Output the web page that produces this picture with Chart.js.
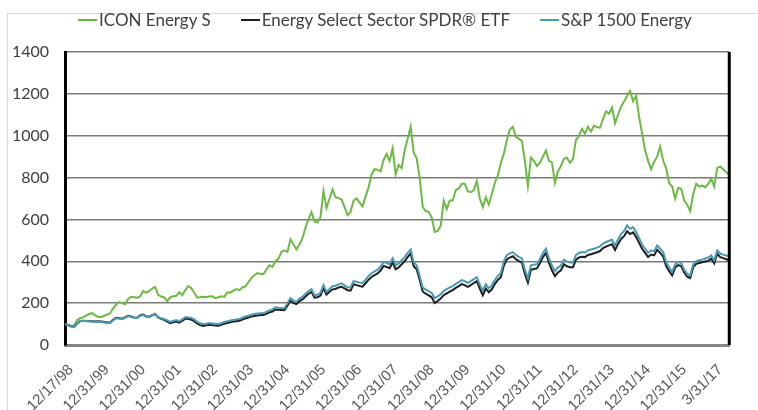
<!DOCTYPE html>
<html>
<head>
<meta charset="utf-8">
<script src="https://cdn.jsdelivr.net/npm/chart.js@4/dist/chart.umd.min.js"></script>
<style>
  html, body { margin: 0; padding: 0; background: #fff; }
  #wrap { position: relative; width: 758px; height: 410px; }
  #leyenda { position: absolute; left: 78px; top: 9px; display: flex; align-items: center;
             font-family: Lato, sans-serif; font-size: 17px; color: #404040; white-space: nowrap; }
  #leyenda .item { display: flex; align-items: center; margin-right: 30px; }
  #leyenda .linea { width: 19px; height: 2px; margin-right: 2px; }
</style>
</head>
<body>
<div id="wrap">
  <canvas id="grafico" width="758" height="410"></canvas>
  <div id="leyenda"></div>
</div>
<script>
// etiquetas del eje X (una cada 12 puntos mensuales)
const tickLabels = ['12/17/98', '12/31/99', '12/31/00', '12/31/01', '12/31/02', '12/31/03',
    '12/31/04', '12/31/05', '12/31/06', '12/31/07', '12/31/08', '12/31/09', '12/31/10',
    '12/31/11', '12/31/12', '12/31/13', '12/31/14', '12/31/15', '3/31/17'];

const yTicks = [0, 200, 400, 600, 800, 1000, 1200, 1400];

const seriesNames = ['ICON Energy S', 'Energy Select Sector SPDR® ETF', 'S&P 1500 Energy'];

const iconEnergy = [
    100, 95, 88, 92, 118, 128, 132, 140, 148, 152, 142, 135,
    133, 140, 145, 152, 175, 192, 205, 200, 195, 220, 230, 228,
    226, 232, 258, 250, 257, 270, 278, 240, 232, 228, 210, 228,
    233, 235, 252, 238, 262, 281, 272, 250, 226, 228, 230, 229,
    232, 233, 224, 228, 233, 230, 252, 250, 260, 267, 262, 275,
    280, 300, 320, 333, 344, 340, 338, 360, 381, 373, 400, 412,
    445, 452, 445, 505, 480, 457, 480, 510, 560, 600, 635, 590,
    585, 612, 735, 655, 700, 743, 706, 702, 695, 660, 620, 635,
    690, 700, 680, 662, 710, 754, 815, 840, 838, 830, 885, 912,
    880, 940, 815, 860, 845, 930, 985, 1043, 920, 892, 800, 660,
    640, 635, 610, 540, 545, 570, 690, 650, 690, 690, 740, 748,
    770, 770, 735, 730, 740, 783, 700, 659, 705, 671, 720, 775,
    810, 870, 914, 980, 1030, 1043, 995, 985, 976, 880, 760, 895,
    880, 855, 870, 900, 929, 880, 873, 775, 830, 855, 890, 895,
    870, 890, 980, 1000, 1033, 1009, 1043, 1020, 1048, 1040, 1038, 1080,
    1116, 1105, 1135, 1060, 1100, 1140, 1163, 1190, 1214, 1165, 1190, 1090,
    1010, 930, 880, 840, 875, 900, 948, 880, 845, 773, 757, 700,
    751, 746, 690, 670, 640, 720, 770, 757, 762, 754, 770, 794,
    757, 846, 852, 840, 825, 813
];

const energySpdr = [
    100, 96, 90, 86, 102, 114, 116, 115, 114, 113, 112, 113,
    112, 110, 108, 107, 120, 130, 128, 126, 132, 140, 136, 132,
    130, 142, 145, 137, 134, 143, 148, 132, 125, 120, 112, 104,
    108, 112, 107, 115, 126, 125, 121, 114, 102, 95, 91, 94,
    97, 95, 93, 92, 96, 102, 105, 109, 112, 114, 116, 121,
    127, 131, 136, 139, 141, 143, 143, 149, 156, 160, 170, 168,
    167, 166, 188, 212, 200, 195, 210, 218, 232, 245, 254, 226,
    228, 236, 272, 241, 254, 266, 268, 275, 278, 270, 262, 260,
    290, 286, 282, 279, 295, 312, 325, 334, 342, 356, 378, 373,
    367, 395, 362, 371, 386, 400, 420, 438, 376, 362, 312, 256,
    245, 237, 228, 200, 210, 222, 238, 247, 255, 262, 273, 281,
    291, 286, 278, 286, 296, 305, 270, 238, 270, 252, 266, 291,
    311, 324, 380, 409, 418, 424, 410, 401, 394, 340, 298, 360,
    363, 366, 390, 420, 440, 393, 357, 329, 347, 357, 386, 376,
    372, 372, 408, 418, 422, 420, 430, 434, 438, 443, 449, 463,
    470, 476, 481, 454, 483, 507, 520, 544, 530, 538, 516, 488,
    460, 440, 420, 432, 428, 455, 440, 424, 377, 353, 333, 370,
    382, 377, 346, 326, 320, 372, 388, 392, 395, 399, 402, 412,
    390, 436, 420, 415, 410, 405
];

const sp1500Energy = [
    100, 96, 90, 86, 102, 114, 116, 115, 113, 112, 110, 112,
    110, 108, 106, 105, 118, 128, 126, 124, 130, 138, 134, 130,
    128, 140, 143, 136, 133, 142, 148, 133, 128, 124, 118, 110,
    115, 119, 114, 122, 133, 132, 129, 122, 110, 104, 100, 102,
    105, 103, 101, 100, 104, 110, 113, 117, 120, 122, 124, 130,
    136, 140, 145, 148, 150, 152, 152, 158, 165, 170, 180, 178,
    177, 176, 200, 224, 212, 206, 222, 230, 245, 258, 267, 238,
    240, 249, 286, 254, 268, 281, 283, 290, 295, 285, 276, 275,
    305, 302, 298, 295, 312, 330, 343, 352, 360, 375, 397, 392,
    386, 414, 381, 390, 405, 420, 440, 457, 395, 381, 330, 275,
    265, 258, 249, 224, 232, 243, 258, 267, 275, 281, 292, 300,
    310, 305, 297, 305, 315, 324, 290, 259, 290, 271, 285, 310,
    330, 343, 400, 429, 438, 444, 430, 421, 414, 360, 319, 381,
    384, 386, 410, 440, 460, 414, 380, 354, 370, 380, 408, 398,
    394, 394, 430, 440, 444, 442, 452, 456, 460, 465, 471, 485,
    492, 498, 503, 476, 505, 530, 545, 571, 555, 563, 540, 510,
    480, 460, 440, 452, 448, 476, 460, 444, 395, 370, 349, 385,
    397, 392, 360, 340, 333, 385, 401, 405, 408, 413, 418, 428,
    405, 452, 437, 432, 428, 424
];

// categorías: etiqueta visible cada 12 meses, vacío en el resto
const labels = iconEnergy.map((v, i) => (i % 12 === 0 ? tickLabels[i / 12] : ''));

const colores = ['#6cb944', '#1f1f1f', '#4b9ab4'];

// leyenda en HTML (línea corta pegada al texto)
const leyenda = document.getElementById('leyenda');
seriesNames.forEach((nombre, i) => {
    const item = document.createElement('div');
    item.className = 'item';
    item.innerHTML = `<span class="linea" style="background:${colores[i]}"></span><span>${nombre}</span>`;
    leyenda.appendChild(item);
});

// marco gris exterior + borde derecho del área de trazado
const marcoPlugin = {
    id: 'marco',
    beforeDraw(chart) {
        const ctx = chart.ctx;
        ctx.save();
        ctx.fillStyle = '#fff';
        ctx.fillRect(0, 0, chart.width, chart.height);
        ctx.strokeStyle = '#d9d9d9';
        ctx.lineWidth = 1;
        ctx.strokeRect(7.5, 13.5, 800, 500);
        ctx.restore();
    },
    afterDraw(chart) {
        const a = chart.chartArea;
        const ctx = chart.ctx;
        ctx.save();
        ctx.strokeStyle = '#000';
        ctx.lineWidth = 3;
        ctx.beginPath();
        ctx.moveTo(a.right, a.top);
        ctx.lineTo(a.right, a.bottom);
        ctx.stroke();
        ctx.restore();
    }
};

new Chart(document.getElementById('grafico').getContext('2d'), {
    type: 'line',
    data: {
        labels: labels,
        datasets: [
            { label: seriesNames[0], data: iconEnergy, borderColor: colores[0], order: 2 },
            { label: seriesNames[1], data: energySpdr, borderColor: colores[1], order: 1 },
            { label: seriesNames[2], data: sp1500Energy, borderColor: colores[2], order: 0 }
        ]
    },
    options: {
        responsive: false,
        animation: false,
        devicePixelRatio: 1,
        elements: {
            point: { radius: 0 },
            line: { borderWidth: 2, tension: 0 }
        },
        layout: { padding: { left: 0, right: 21, top: 52, bottom: 0 } },
        plugins: {
            tooltip: { enabled: false },
            legend: { display: false }
        },
        scales: {
            x: {
                grid: { display: false, drawTicks: false },
                border: { color: '#858585', width: 3 },
                ticks: {
                    autoSkip: false,
                    maxRotation: 45,
                    minRotation: 45,
                    padding: 16,
                    labelOffset: 6,
                    color: '#595959',
                    font: { family: 'Liberation Sans', size: 15 }
                },
                afterFit: (scale) => { scale.height = 65; }
            },
            y: {
                min: 0,
                max: 1400,
                afterBuildTicks: (scale) => { scale.ticks = yTicks.map(v => ({ value: v })); },
                grid: { color: '#7a7a7a', lineWidth: 1.5, drawTicks: false },
                border: { color: '#000', width: 3 },
                ticks: {
                    padding: 16,
                    color: '#404040',
                    font: { family: 'Lato', size: 16 },
                    callback: (v) => String(v)
                },
                afterFit: (scale) => { scale.width = 65; }
            }
        }
    },
    plugins: [marcoPlugin]
});
</script>
</body>
</html>
